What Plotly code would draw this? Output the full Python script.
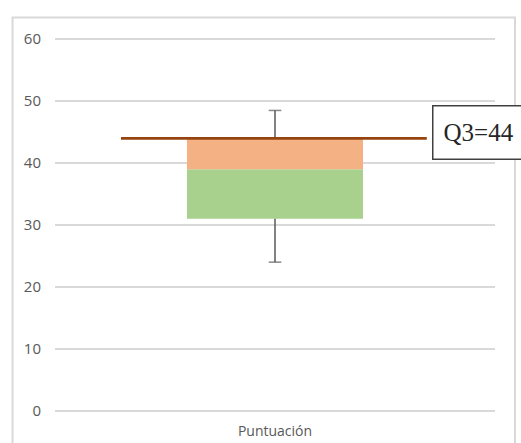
import plotly.graph_objects as go

# Five-number summary of the score distribution
category = ["Puntuación"]
q_min = [24]
q1 = [31]
median = [39]
q3 = [44]
q_max = [48.5]

y_ticks = [0, 10, 20, 30, 40, 50, 60]

green = "#A9D18E"
orange = "#F4B183"
whisker_color = "#595959"
q3_line_color = "#96440F"
grid_color = "#D9D9D9"
label_color = "#595959"

fig = go.Figure()

# Lower box: Q1 -> median
fig.add_trace(go.Bar(
    x=category, base=q1, y=[m - a for m, a in zip(median, q1)],
    width=0.4, marker=dict(color=green, line=dict(width=0)),
    showlegend=False, hoverinfo="skip",
))
# Upper box: median -> Q3
fig.add_trace(go.Bar(
    x=category, base=median, y=[b - m for b, m in zip(q3, median)],
    width=0.4, marker=dict(color=orange, line=dict(width=0)),
    showlegend=False, hoverinfo="skip",
))

# Whiskers with end caps
whisker_marker = dict(symbol="line-ew", color=whisker_color,
                      line=dict(color=whisker_color, width=1.5))
fig.add_trace(go.Scatter(
    x=category * 2, y=[q3[0], q_max[0]], mode="lines+markers",
    line=dict(color=whisker_color, width=1.5),
    marker=dict(size=[0, 9], **whisker_marker),
    showlegend=False, hoverinfo="skip",
))
fig.add_trace(go.Scatter(
    x=category * 2, y=[q_min[0], q1[0]], mode="lines+markers",
    line=dict(color=whisker_color, width=1.5),
    marker=dict(size=[9, 0], **whisker_marker),
    showlegend=False, hoverinfo="skip",
))

# Q3 reference line
fig.add_shape(type="line", xref="x", yref="y",
              x0=-0.35, x1=0.345, y0=q3[0], y1=q3[0],
              line=dict(color=q3_line_color, width=2.8), layer="above")

# Chart-area frame
fig.add_shape(type="rect", xref="paper", yref="paper",
              x0=-0.0965, x1=1.0455, y0=-0.3, y1=1.055,
              line=dict(color=grid_color, width=2), layer="below")

# Q3 callout
fig.add_annotation(
    xref="paper", yref="paper", x=0.857, y=0.748,
    xanchor="left", yanchor="middle",
    text=f"Q3={q3[0]:g}", showarrow=False, align="left",
    font=dict(family="Liberation Serif", size=25, color="#262626"),
    bordercolor="#404040", borderwidth=1.5, borderpad=10,
    width=110, height=32, bgcolor="white",
)

fig.update_layout(
    width=521, height=443,
    margin=dict(l=55, r=26, t=37.5, b=31),
    paper_bgcolor="white", plot_bgcolor="white",
    barmode="overlay",
    font=dict(family="Open Sans", size=14, color=label_color),
)
fig.update_xaxes(
    showgrid=False, zeroline=False, showline=False, ticks="",
    ticklabelstandoff=9, automargin=False,
)
fig.update_yaxes(
    range=[-0.2, 60.2], tickvals=y_ticks, showgrid=True,
    gridcolor=grid_color, gridwidth=1.5, zeroline=False,
    showline=False, ticks="", ticklabelstandoff=13,
    tickfont=dict(size=15), automargin=False,
)

fig.write_html("out.html")
